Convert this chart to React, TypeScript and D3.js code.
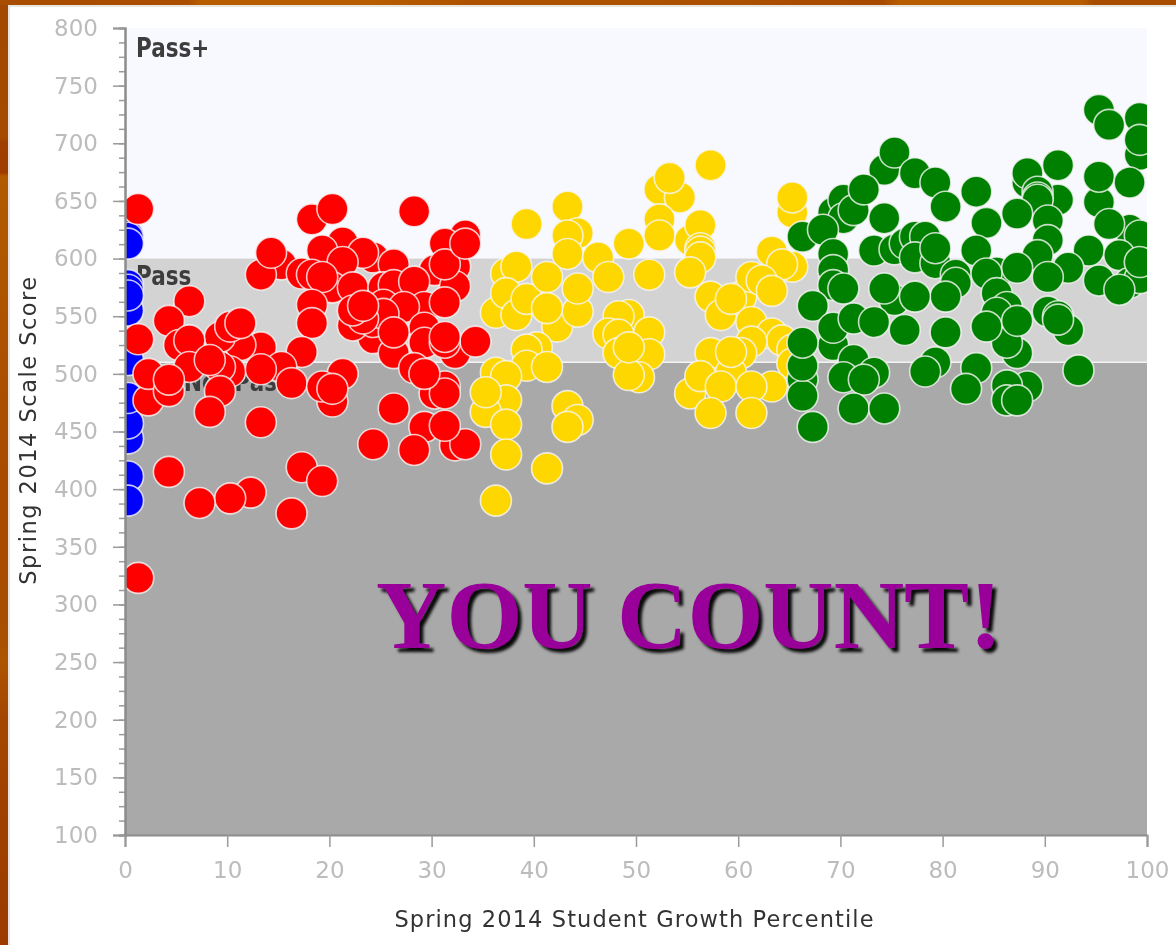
import React, { useRef, useEffect } from 'react';
import * as d3 from 'd3';

type Pt = [number, number];

const yTicks = [100, 150, 200, 250, 300, 350, 400, 450, 500, 550, 600, 650, 700, 750, 800];
const xTicks = [0, 10, 20, 30, 40, 50, 60, 70, 80, 90, 100];

// [growth percentile, scale score]. Later points sit on top.
const bluePoints: Pt[] = [
  [0, 620], [0, 618], [0, 613], [0, 577], [0, 573], [0, 555], [0, 568], [0, 512],
  [0, 444], [0, 457], [0, 479], [0, 411], [0, 390],
];

const redPoints: Pt[] = [
  [1, 643], [18, 634], [20, 643], [28, 641], [33, 620], [31, 613], [21, 614], [24, 601],
  [15, 595], [13, 586], [14, 605], [19, 607], [23, 605], [21, 597], [26, 595], [32, 594],
  [32, 593], [30, 590], [32, 576], [17, 587], [18, 586], [20, 575], [22, 575], [25, 575], [26, 577],
  [19, 584], [28, 580], [31, 595], [33, 613], [25, 560], [29, 558], [27, 558], [18, 560], [18, 544],
  [31, 562], [29, 540], [24, 531], [22, 542], [24, 545], [25, 552], [23, 548], [22, 555], [26, 518],
  [29, 527], [32, 518], [34, 528], [26, 536], [23, 559], [17, 519], [31, 527], [31, 532], [28, 505],
  [6, 563], [4, 546], [1, 530], [5, 525], [13, 523], [11, 525], [9, 532], [10, 541], [6, 529],
  [11, 544], [15, 506], [6, 506], [10, 502], [9, 506], [13, 504], [8, 512], [16, 492], [2, 477],
  [2, 500], [4, 485], [4, 495], [9, 485], [8, 467], [13, 458], [21, 500], [20, 476], [19, 489],
  [20, 487], [26, 470], [30, 483], [31, 489], [31, 483], [29, 500], [24, 439], [29, 454], [32, 438],
  [33, 439], [31, 455], [28, 434], [4, 415], [17, 419], [19, 407], [12, 397], [10, 392],
  [7, 388], [16, 379], [1, 323],
];

const yellowPoints: Pt[] = [
  [57, 681], [52, 660], [54, 653], [53, 670], [65, 640], [65, 653], [43, 645], [39, 630],
  [52, 634], [52, 620], [55, 616], [56, 629], [56, 609], [56, 606], [56, 601], [44, 622],
  [43, 620], [43, 604], [49, 613], [46, 601], [47, 584], [51, 586], [55, 588], [63, 606],
  [65, 593], [64, 595], [60, 567], [61, 584], [62, 581], [63, 572], [37, 587], [38, 593],
  [36, 553], [37, 570], [38, 551], [42, 541], [44, 554], [39, 565], [41, 584], [44, 574],
  [41, 557], [57, 567], [58, 551], [59, 565], [61, 545], [49, 551], [48, 550], [47, 535],
  [48, 534], [48, 518], [51, 536], [51, 517], [50, 497], [49, 499], [49, 523], [40, 523],
  [39, 521], [39, 507], [41, 506], [36, 501], [37, 498], [37, 477], [35, 467], [37, 456],
  [35, 484], [37, 430], [41, 418], [36, 390], [43, 472], [44, 460], [43, 454], [63, 535],
  [64, 529], [65, 521], [65, 509], [61, 528], [60, 518], [57, 518], [59, 501], [59, 519],
  [55, 483], [56, 498], [63, 489], [58, 489], [61, 489], [57, 466], [61, 466],
];

const greenPoints: Pt[] = [
  [99, 722], [99, 690], [99, 703], [95, 729], [96, 716], [91, 681], [74, 677], [75, 692],
  [77, 674], [79, 666], [80, 645], [83, 658], [88, 666], [88, 674], [91, 651], [89, 658],
  [89, 653], [89, 651], [95, 649], [95, 671], [98, 666], [98, 625], [96, 630], [99, 620],
  [94, 607], [97, 603], [87, 639], [84, 631], [83, 607], [90, 633], [90, 616], [92, 592],
  [89, 603], [90, 584], [85, 588], [87, 592], [95, 581], [98, 579], [99, 583], [99, 597],
  [97, 573], [69, 640], [70, 651], [70, 635], [71, 642], [72, 660], [74, 635], [66, 619],
  [68, 625], [69, 604], [73, 607], [75, 608], [76, 613], [77, 619], [78, 619], [77, 601],
  [79, 596], [79, 609], [81, 586], [81, 579], [84, 587], [80, 567], [85, 570], [86, 558],
  [85, 553], [87, 518], [86, 527], [84, 541], [87, 546], [90, 554], [92, 538], [91, 550],
  [91, 547], [93, 503], [69, 590], [69, 577], [70, 574], [75, 564], [77, 567], [74, 574],
  [67, 559], [69, 525], [69, 540], [71, 548], [73, 545], [76, 538], [80, 536], [66, 495],
  [66, 481], [66, 507], [66, 527], [67, 454], [71, 512], [70, 497], [73, 501], [72, 495],
  [71, 470], [74, 470], [79, 510], [78, 502], [83, 505], [82, 487], [88, 489], [86, 490],
  [86, 477], [87, 477],
];

const bands = [
  { label: 'Pass+', from: 600, to: 800, fill: '#f8f8ff', labelAt: 775 },
  { label: 'Pass', from: 510, to: 600, fill: '#d3d3d3', labelAt: 577 },
  { label: 'Did Not Pass', from: 100, to: 510, fill: '#a9a9a9', labelAt: 485 },
];

const series = [
  { points: bluePoints, fill: '#0000ff' },
  { points: redPoints, fill: '#ff0000' },
  { points: yellowPoints, fill: '#ffd700' },
  { points: greenPoints, fill: '#008000' },
];

const width = 1176;
const height = 945;
const plot = { left: 125, right: 1147, top: 28, bottom: 835 };

const App = () => {
  const svgRef = useRef<SVGSVGElement>(null);

  useEffect(() => {
    const svg = d3.select(svgRef.current);
    svg.selectAll('*').remove();

    const x = d3.scaleLinear().domain([0, 100]).range([plot.left, plot.right]);
    const y = d3.scaleLinear().domain([100, 800]).range([plot.bottom, plot.top]);
    // the points sit 3px right of the axis in the original
    const xMark = x.copy().range([plot.left + 3, plot.right + 3]);

    const defs = svg.append('defs');

    const leftGrad = defs.append('linearGradient').attr('id', 'leftEdge')
      .attr('x1', 0).attr('x2', 0).attr('y1', 0).attr('y2', 1);
    [[0, '#a34800'], [0.145, '#a54a00'], [0.15, '#a04000'], [0.183, '#a03c00'], [0.186, '#b25a00'],
      [0.5, '#a84c00'], [0.66, '#a84e00'], [0.7, '#ad5400'], [0.76, '#a44600'], [1, '#9c3a00']]
      .forEach(([o, c]) => leftGrad.append('stop').attr('offset', o).attr('stop-color', c));

    const topGrad = defs.append('linearGradient').attr('id', 'topEdge');
    [[0, '#a84c00'], [0.16, '#ab4e00'], [0.17, '#b85c00'], [0.32, '#b85c00'], [0.4, '#ae5200'],
      [0.55, '#ad5200'], [0.75, '#a84a00'], [0.765, '#b85c00'], [0.92, '#b85c00'], [0.93, '#a84c00'], [1, '#a84c00']]
      .forEach(([o, c]) => topGrad.append('stop').attr('offset', o).attr('stop-color', c));

    defs.append('clipPath').attr('id', 'plotClip').append('rect')
      .attr('x', plot.left).attr('y', plot.top)
      .attr('width', plot.right - plot.left).attr('height', plot.bottom - plot.top);

    const soft = defs.append('filter').attr('id', 'soft');
    soft.append('feGaussianBlur').attr('stdDeviation', 0.6);

    const shadow = defs.append('filter').attr('id', 'shadow')
      .attr('x', '-5%').attr('y', '-20%').attr('width', '110%').attr('height', '140%');
    shadow.append('feDropShadow').attr('dx', 4).attr('dy', 4).attr('stdDeviation', 1.6)
      .attr('flood-color', '#000').attr('flood-opacity', 0.95);

    // Page frame
    svg.append('rect').attr('width', width).attr('height', height).attr('fill', '#ffffff');
    svg.append('rect').attr('width', 8).attr('height', height).attr('fill', 'url(#leftEdge)');
    svg.append('rect').attr('width', width).attr('height', 5).attr('fill', 'url(#topEdge)');
    svg.append('rect').attr('x', 8).attr('y', 5).attr('width', 2).attr('height', height).attr('fill', '#e6e6e2');
    svg.append('rect').attr('x', 8).attr('y', 5).attr('width', width).attr('height', 2).attr('fill', '#e6e6e2');

    const chart = svg.append('g').attr('filter', 'url(#soft)');

    // Bands with their labels
    chart.selectAll('rect.band').data(bands).enter().append('rect')
      .attr('class', 'band')
      .attr('x', plot.left)
      .attr('width', plot.right - plot.left)
      .attr('y', d => y(d.to))
      .attr('height', d => y(d.from) - y(d.to))
      .attr('fill', d => d.fill);
    chart.append('line')
      .attr('x1', plot.left).attr('x2', plot.right)
      .attr('y1', y(510)).attr('y2', y(510))
      .attr('stroke', '#f4f4f4').attr('stroke-width', 1.5);

    // the bitmap labels are taller than the font, so stretch them a little
    chart.selectAll('text.band').data(bands).enter().append('text')
      .attr('class', 'band')
      .attr('transform', d => `translate(${plot.left + 11},${y(d.labelAt)}) scale(1,1.2)`)
      .attr('font-family', 'DejaVu Sans')
      .attr('font-weight', 'bold')
      .attr('font-size', 21.5)
      .attr('fill', '#3c3c3c')
      .text(d => d.label);

    // Points
    const marks = chart.append('g').attr('clip-path', 'url(#plotClip)');
    series.forEach(s => {
      marks.append('g').selectAll('circle').data(s.points).enter().append('circle')
        .attr('cx', d => xMark(d[0]))
        .attr('cy', d => y(d[1]))
        .attr('r', 15.5)
        .attr('fill', s.fill)
        .attr('stroke', '#f6f6f6')
        .attr('stroke-opacity', 0.8)
        .attr('stroke-width', 1.6);
    });

    // Axes
    const yAxisMajor = d3.axisLeft(y).tickValues(yTicks).tickSize(12).tickPadding(15);
    const yAxisMinor = d3.axisLeft(y).tickValues(d3.range(100, 800, 12.5)).tickSize(6).tickFormat(() => '');
    const xAxis = d3.axisBottom(x).tickValues(xTicks).tickSize(12).tickPadding(15);

    const gMinor = chart.append('g').attr('transform', `translate(${plot.left},0)`).call(yAxisMinor);
    const gY = chart.append('g').attr('transform', `translate(${plot.left},0)`).call(yAxisMajor);
    const gX = chart.append('g').attr('transform', `translate(0,${plot.bottom})`).call(xAxis);

    [gMinor, gY, gX].forEach(g => {
      g.selectAll('.domain').attr('stroke', '#8c8c8c').attr('stroke-width', 2);
      g.selectAll('.tick line').attr('stroke', '#9a9a9a').attr('stroke-width', 1.5);
      g.selectAll('.tick text')
        .attr('font-family', 'DejaVu Sans')
        .attr('font-size', 23)
        .attr('fill', '#bcbcbc');
    });

    // Axis titles
    chart.append('text')
      .attr('x', (394 + 875) / 2)
      .attr('y', 927)
      .attr('text-anchor', 'middle')
      .attr('font-family', 'DejaVu Sans')
      .attr('font-size', 22.5)
      .attr('letter-spacing', 1.1)
      .attr('fill', '#333333')
      .text('Spring 2014 Student Growth Percentile');

    chart.append('text')
      .attr('transform', 'rotate(-90)')
      .attr('x', -430)
      .attr('y', 36)
      .attr('text-anchor', 'middle')
      .attr('font-family', 'DejaVu Sans')
      .attr('font-size', 22.5)
      .attr('letter-spacing', 1.5)
      .attr('fill', '#333333')
      .text('Spring 2014 Scale Score');

    // Overlay caption
    svg.append('text')
      .attr('x', 376)
      .attr('y', 648)
      .attr('font-family', 'Liberation Serif')
      .attr('font-weight', 'bold')
      .attr('font-size', 97.5)
      .attr('fill', '#990099')
      .attr('filter', 'url(#shadow)')
      .text('YOU COUNT!');
  }, []);

  return (
    <svg
      ref={svgRef}
      width={width}
      height={height}
      style={{ position: 'absolute', left: 0, top: 0, display: 'block' }}
    />
  );
};

export default App;
